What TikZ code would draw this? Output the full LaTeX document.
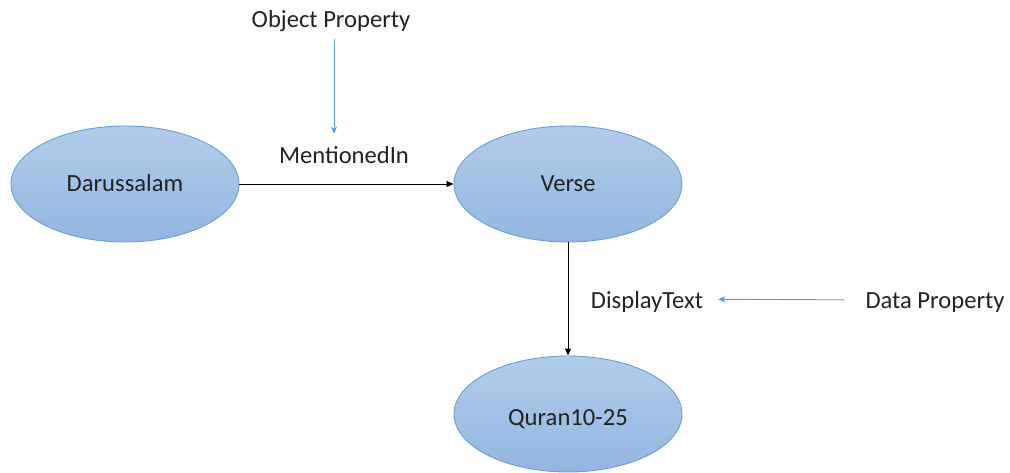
\documentclass[tikz,border=0pt]{standalone}
\usepackage{fontspec}
\setmainfont{Carlito}
\usetikzlibrary{shapes.geometric,arrows.meta}
\definecolor{ovalTop}{HTML}{B3CCEA}
\definecolor{ovalBot}{HTML}{92B6E1}
\definecolor{ovalLine}{HTML}{6A9FD6}
\definecolor{propBlue}{HTML}{5B9BD5}
\definecolor{txt}{HTML}{222222}
\tikzset{
  concept/.style={ellipse, minimum width=228pt, minimum height=116pt, inner sep=0pt,
    draw=ovalLine, line width=0.9pt, top color=ovalTop, bottom color=ovalBot},
  lbl/.style={inner sep=0pt, text=txt, font=\fontsize{24.6}{29}\selectfont},
  relarrow/.style={-{Triangle[length=7pt,width=6pt]}, line width=0.9pt, black},
  proparrow/.style={-{Stealth[length=7pt,width=6pt,inset=2pt]}, line width=0.9pt, propBlue}
}
\begin{document}
\begin{tikzpicture}[x=1pt,y=-1pt]
  \useasboundingbox[fill=white] (0,0) rectangle (1010,472);
  % class and literal nodes
  \node[concept] (dar) at (125,184) {};
  \node[concept] (verse) at (568,184) {};
  \node[concept] (quran) at (568,414) {};
  \node[lbl, anchor=base] at (125,191.7) {Darussalam};
  \node[lbl, anchor=base] at (568,191.7) {Verse};
  \node[lbl, anchor=base] at (568,425) {Quran10-25};
  % property labels
  \node[lbl, anchor=base] (op) at (331,27) {Object Property};
  \node[lbl, anchor=base] (mi) at (344,163) {MentionedIn};
  \node[lbl, anchor=base] (dt) at (647,308.5) {DisplayText};
  \node[lbl, anchor=base] (dp) at (935,308.5) {Data Property};
  % relations
  \draw[relarrow] (dar) -- (verse);
  \draw[relarrow] (verse) -- (quran);
  % annotations pointing at the property names
  \draw[proparrow, shorten <=8pt, shorten >=12pt] (op.south -| 334,0) -- (334,0 |- mi.north);
  \draw[proparrow, shorten <=21pt, shorten >=15pt] ([yshift=2.7pt]dp.west) -- ([yshift=2.7pt]dt.east);
\end{tikzpicture}
\end{document}
